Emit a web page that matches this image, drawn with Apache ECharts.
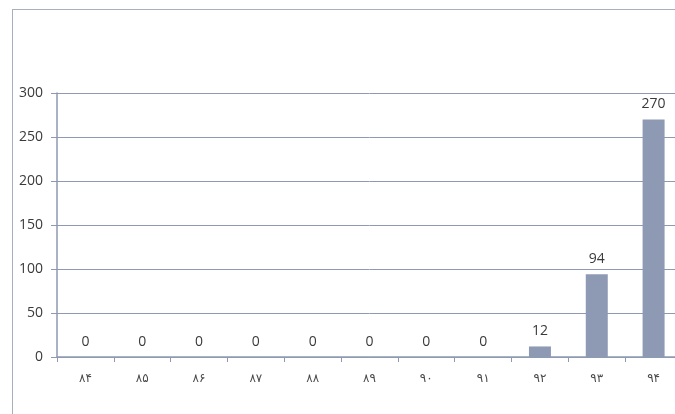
<!DOCTYPE html>
<html>
<head>
<meta charset="utf-8">
<script src="https://cdn.jsdelivr.net/npm/echarts@6/dist/echarts.min.js"></script>
<style>
  html, body { margin: 0; padding: 0; background: #fff; overflow: hidden; }
  .frame {
    position: absolute; left: 12px; top: 9px; width: 700px; height: 420px;
    border-left: 1px solid #a9b0bd; border-top: 1px solid #a9b0bd;
  }
  #chart { position: absolute; left: 0; top: 0; width: 682px; height: 414px; }
</style>
</head>
<body>
<div class="frame"></div>
<div id="chart"></div>
<script>
const categories = ['۸۴', '۸۵', '۸۶', '۸۷', '۸۸', '۸۹', '۹۰', '۹۱', '۹۲', '۹۳', '۹۴']
const values = [0, 0, 0, 0, 0, 0, 0, 0, 12, 94, 270]
const yTicks = [0, 50, 100, 150, 200, 250, 300]

const lineColor = '#8f99b3'
const chart = echarts.init(document.getElementById('chart'))
chart.setOption({
  animation: false,
  grid: { left: 57, right: 0, top: 93, bottom: 57 },
  xAxis: {
    type: 'category',
    data: categories,
    axisLine: { lineStyle: { color: lineColor, width: 1.5 } },
    axisTick: { show: true, length: 5, lineStyle: { color: lineColor } },
    axisLabel: { color: '#4a4a4a', fontSize: 12, margin: 16, fontFamily: 'DejaVu Sans' }
  },
  yAxis: {
    type: 'value',
    min: yTicks[0],
    max: yTicks[yTicks.length - 1],
    interval: 50,
    axisLine: { show: true, lineStyle: { color: lineColor, width: 1.5 } },
    axisTick: { show: true, length: 6, lineStyle: { color: lineColor } },
    splitLine: { lineStyle: { color: lineColor, width: 1 } },
    axisLabel: { color: '#3a3a3a', fontSize: 14, margin: 14, fontFamily: 'Open Sans' }
  },
  series: [{
    type: 'bar',
    data: values,
    barWidth: 22,
    itemStyle: { color: '#8e9ab4' },
    label: {
      show: true,
      position: 'top',
      distance: 8,
      color: '#3a3a3a',
      fontSize: 14,
      fontFamily: 'Open Sans'
    }
  }]
})
</script>
</body>
</html>
